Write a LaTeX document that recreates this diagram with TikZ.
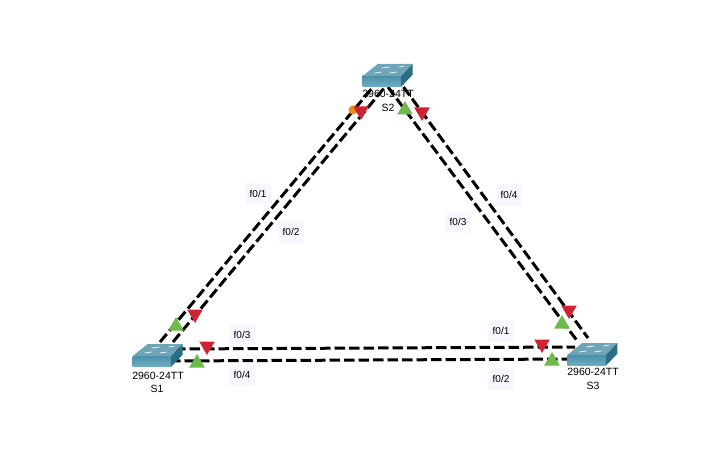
\documentclass[tikz,border=0pt]{standalone}
\usepackage{fontspec}
\setmainfont{Liberation Sans}
\usetikzlibrary{shapes.geometric, positioning}
\definecolor{swtop}{HTML}{6FA5B8}
\definecolor{swfront}{HTML}{4A8FA9}
\definecolor{swfrontlow}{HTML}{6FAEC4}
\definecolor{swside}{HTML}{2A6E84}
\definecolor{portred}{HTML}{CF2233}
\definecolor{portgreen}{HTML}{6DBB4B}
\definecolor{portorange}{HTML}{F08A12}
\definecolor{tagback}{HTML}{F7F7FF}
\tikzstyle{link} = [draw=black, line width=3pt, dash pattern=on 10.5pt off 4pt]
\tikzstyle{tag} = [fill=tagback, inner sep=0pt, minimum width=26pt, minimum height=22pt, font=\fontsize{10}{12}\selectfont]
\tikzstyle{devname} = [inner sep=0pt, font=\fontsize{10.5}{12}\selectfont]
\tikzstyle{blocked} = [regular polygon, regular polygon sides=3, shape border rotate=180, fill=portred, inner sep=0pt, minimum size=18pt]
\tikzstyle{forward} = [regular polygon, regular polygon sides=3, fill=portgreen, inner sep=0pt, minimum size=18pt]
\tikzstyle{learning} = [circle, fill=portorange, inner sep=0pt, minimum size=9pt]
\begin{document}
\begin{tikzpicture}[x=1pt,y=-1pt]
  \useasboundingbox (0,0) rectangle (725,454);

  % link ends, hidden under the switches
  \foreach \x/\y/\i in {160/342/a,173/342/b,373/87/c,385/87/d,388/87/e,403.5/87/f,578/342/g,588/338/h,175/349/k,575/347/l,170/361/m,575/359/n}{
    \coordinate (\i) at (\x,\y);
  }

  \draw[link] (a) -- (c);
  \draw[link] (b) -- (d);
  \draw[link] (e) -- (g);
  \draw[link] (f) -- (h);
  \draw[link] (k) -- (l);
  \draw[link] (m) -- (n);

  % switches
  \foreach \x/\y/\i in {132.7/356/s1,362.7/76/s2,567.3/355/s3}{
    \coordinate (\i) at (\x,\y);
    \shade[top color=swfront, bottom color=swfrontlow] (\x,\y) rectangle (\x+38.5,\y+10.7);
    \fill[swtop] (\x,\y) -- (\x+15,\y-12) -- (\x+50,\y-12) -- (\x+38.5,\y) -- cycle;
    \fill[swside] (\x+38.5,\y) -- (\x+50,\y-12) -- (\x+50,\y-1.3) -- (\x+38.5,\y+10.7) -- cycle;
    \foreach \a/\b/\c in {12/-3/7,27/-3/7,19/-8/8,36/-9/6}{
      \draw[white!85!swtop, line width=0.8pt] (\x+\a,\y+\b) -- +(\c,-1);
    }
  }

  \foreach \x/\y/\n/\j in {158/376/2960-24TT/m1,157/389/S1/n1,388/94/2960-24TT/m2,388/108/S2/n2,593/372/2960-24TT/m3,593/386/S3/n3}{
    \node[devname] (\j) at (\x,\y) {\n};
  }

  \foreach \x/\y/\n/\j in {258/194/f0\slash 1/t1,291/232/f0\slash 2/t2,509/195/f0\slash 4/t3,458/222/f0\slash 3/t4,242/335/f0\slash 3/t5,242/375/f0\slash 4/t6,501/331/f0\slash 1/t7,501/379/f0\slash 2/t8}{
    \node[tag] (\j) at (\x,\y) {\n};
  }

  \node[learning] (o1) at (353,110) {};
  \foreach \x/\y/\j in {361/111/r1,422/112/r2,195/314/r3,207/346/r4,569/310/r5,542/344/r6}{
    \node[blocked] (\j) at (\x,\y) {};
  }
  \foreach \x/\y/\j in {405/110/g1,176/326/g2,197/363/g3,562/324/g4,552/361/g5}{
    \node[forward] (\j) at (\x,\y) {};
  }
\end{tikzpicture}
\end{document}
